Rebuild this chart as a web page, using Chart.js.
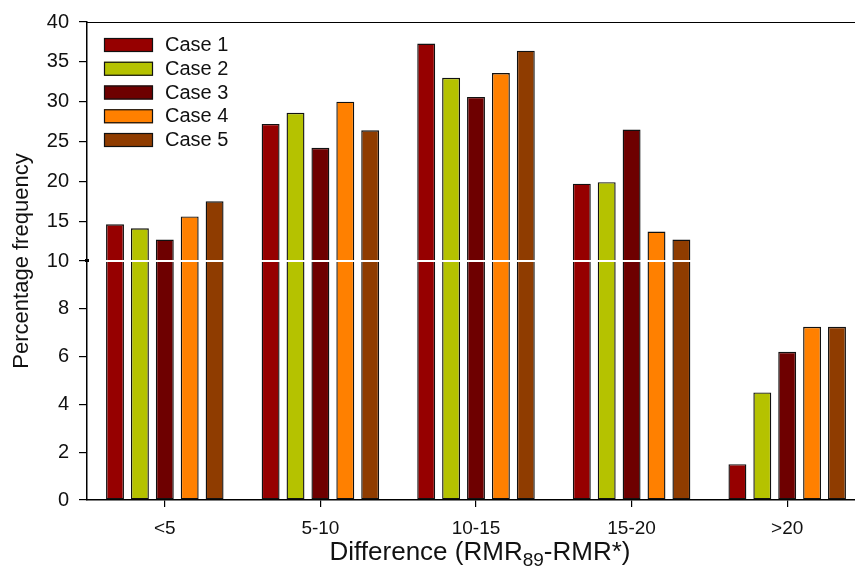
<!DOCTYPE html>
<html lang="en">
<head>
    <meta charset="UTF-8">
    <title>Percentage frequency by difference</title>
    <script src="https://cdn.jsdelivr.net/npm/chart.js"></script>
    <style>
        html, body { margin: 0; padding: 0; overflow: hidden; background: #fff; }
    </style>
</head>
<body>
    <canvas id="freqChart" width="866" height="569"></canvas>

    <script>
        // data
        const categories = ['<5', '5-10', '10-15', '15-20', '>20'];
        const caseNames = ['Case 1', 'Case 2', 'Case 3', 'Case 4', 'Case 5'];
        const case1 = [14.6, 27.2, 37.3, 19.7, 1.5];
        const case2 = [14.1, 28.6, 33.0, 19.9, 4.5];
        const case3 = [12.7, 24.2, 30.6, 26.5, 6.2];
        const case4 = [15.6, 30.0, 33.6, 13.7, 7.25];
        const case5 = [17.5, 26.4, 36.4, 12.7, 7.25];
        const yTicks = [0, 2, 4, 6, 8, 10, 15, 20, 25, 30, 35, 40];
        const breakAt = 10;

        const colors = ['#960000', '#b5c200', '#6e0000', '#ff8000', '#8f3c00'];
        const FONT = 'Liberation Sans, Arial, sans-serif';

        // y scale with a break: 0-10 fills the lower half, 10-40 the upper half
        const LinearScale = Chart.LinearScale || Chart.registry.getScale('linear');
        class BrokenScale extends LinearScale {
            static id = 'broken';
            static defaults = LinearScale.defaults;
            buildTicks() {
                return yTicks.map(v => ({ value: v }));
            }
            frac(v) {
                if (v <= breakAt) return 0.5 * v / breakAt;
                return 0.5 + 0.5 * (v - breakAt) / (this.max - breakAt);
            }
            getPixelForValue(v) {
                return this.bottom - this.frac(v) * (this.bottom - this.top);
            }
            getValueForPixel(p) {
                const f = (this.bottom - p) / (this.bottom - this.top);
                return f <= 0.5 ? f * 2 * breakAt : breakAt + (f - 0.5) * 2 * (this.max - breakAt);
            }
        }
        Chart.register(BrokenScale);

        const extras = {
            id: 'extras',
            afterDatasetsDraw(chart) {
                const { ctx, chartArea: a, scales } = chart;
                const yb = Math.round(scales.y.getPixelForValue(breakAt));
                ctx.save();
                // white break line across the bars
                ctx.strokeStyle = '#fff';
                ctx.lineWidth = 2;
                ctx.beginPath();
                ctx.moveTo(a.left + 1, yb);
                ctx.lineTo(a.right, yb);
                ctx.stroke();
                ctx.restore();
            },
            afterDraw(chart) {
                const { ctx, chartArea: a, scales } = chart;
                ctx.save();
                // top frame line
                ctx.strokeStyle = '#000';
                ctx.lineWidth = 1;
                ctx.beginPath();
                ctx.moveTo(a.left, a.top + 0.5);
                ctx.lineTo(a.right, a.top + 0.5);
                ctx.stroke();

                // small break mark on the y axis
                const yb = Math.round(scales.y.getPixelForValue(breakAt));
                ctx.fillStyle = '#000';
                ctx.fillRect(a.left - 2, yb - 2, 4, 3);

                // legend inside the plot
                ctx.font = '20px ' + FONT;
                ctx.textBaseline = 'middle';
                ctx.textAlign = 'left';
                chart.data.datasets.forEach((ds, i) => {
                    const y = 38 + i * 23.75;
                    ctx.fillStyle = ds.backgroundColor;
                    ctx.fillRect(104, y, 49, 14);
                    ctx.strokeStyle = '#111';
                    ctx.lineWidth = 1.2;
                    ctx.strokeRect(104.5, y + 0.5, 48, 13);
                    ctx.fillStyle = '#111';
                    ctx.fillText(ds.label, 165, y + 7.5);
                });

                // x axis title with subscript
                const main1 = 'Difference (RMR', sub = '89', main2 = '-RMR*)';
                const big = '26px ' + FONT, small = '19px ' + FONT;
                ctx.font = big;
                const w1 = ctx.measureText(main1).width, w3 = ctx.measureText(main2).width;
                ctx.font = small;
                const w2 = ctx.measureText(sub).width;
                let x = (a.left + a.right) / 2 + 4 - (w1 + w2 + w3) / 2;
                ctx.textBaseline = 'alphabetic';
                ctx.fillStyle = '#111';
                ctx.font = big;
                ctx.fillText(main1, x, 560);
                x += w1;
                ctx.font = small;
                ctx.fillText(sub, x, 566);
                x += w2;
                ctx.font = big;
                ctx.fillText(main2, x, 560);
                ctx.restore();
            }
        };

        const seriesValues = [case1, case2, case3, case4, case5];
        const ctx = document.getElementById('freqChart').getContext('2d');
        const freqChart = new Chart(ctx, {
            type: 'bar',
            data: {
                labels: categories,
                datasets: caseNames.map((name, i) => ({
                    label: name,
                    data: seriesValues[i],
                    backgroundColor: colors[i],
                    borderColor: '#111',
                    borderWidth: 1.4,
                    borderSkipped: false,
                    categoryPercentage: 0.8,
                    barPercentage: 0.72
                }))
            },
            options: {
                responsive: false,
                animation: false,
                layout: { padding: { top: 19, right: 1, bottom: 0, left: 0 } },
                plugins: {
                    legend: { display: false },
                    tooltip: { enabled: false }
                },
                scales: {
                    x: {
                        type: 'category',
                        offset: true,
                        grid: { offset: false, drawOnChartArea: false, tickLength: 7, color: '#000', lineWidth: 1.2 },
                        border: { color: '#000', width: 1.5 },
                        ticks: { color: '#111', font: { family: FONT, size: 19 }, padding: 10, maxRotation: 0 },
                        afterFit: s => { s.height = 69; }
                    },
                    y: {
                        type: 'broken',
                        min: 0,
                        max: 40,
                        grid: { drawOnChartArea: false, tickLength: 8, color: '#000', lineWidth: 1.2 },
                        border: { color: '#000', width: 1.5 },
                        ticks: { color: '#111', font: { family: FONT, size: 20 }, padding: 10, autoSkip: false },
                        title: {
                            display: true,
                            text: 'Percentage frequency',
                            color: '#111',
                            font: { family: FONT, size: 22 },
                            padding: { top: 9, bottom: 0 }
                        },
                        afterFit: s => { s.width = 87; }
                    }
                }
            },
            plugins: [extras]
        });
    </script>
</body>
</html>
